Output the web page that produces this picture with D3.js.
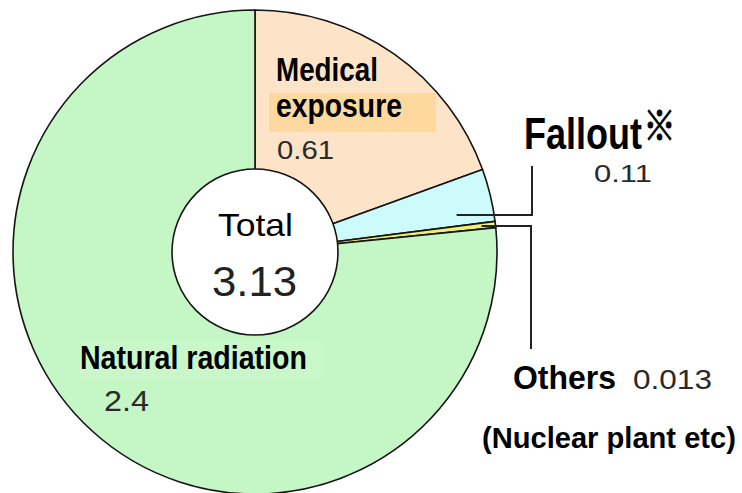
<!DOCTYPE html>
<html>
<head>
<meta charset="utf-8">
<script src="https://cdn.jsdelivr.net/npm/d3@7"></script>
<style>
  body { margin: 0; background: #fff; }
  svg { display: block; }
</style>
</head>
<body>
<div id="chart"></div>
<script>
// data (mSv per year)
const categories = ["Medical exposure", "Fallout", "Others", "Natural radiation"];
const values = [0.61, 0.11, 0.013, 2.4];
const valueLabels = ["0.61", "0.11", "0.013", "2.4"];
const totalLabel = "3.13";

const WIDTH = 742
const HEIGHT = 493
const cx = 255, cy = 252
const R = 242, R0 = 83

const colors = ["#fde4c9", "#cdfbfb", "#f2ee6e", "#c5f6c5"]

const bold = "'Liberation Sans', Arial, sans-serif"
const plain = "'Liberation Sans', Arial, sans-serif"

const svg = d3.select("#chart")
    .append("svg")
    .attr("width", WIDTH)
    .attr("height", HEIGHT)

const pie = d3.pie().sort(null).value(d => d.v)
const arcs = pie(categories.map((c, i) => ({ c: c, v: values[i] })))
const arc = d3.arc().innerRadius(0).outerRadius(R)

const g = svg.append("g").attr("transform", `translate(${cx},${cy})`)

g.selectAll("path.slice")
    .data(arcs)
    .join("path")
    .attr("class", "slice")
    .attr("d", arc)
    .attr("fill", (d, i) => colors[i])
    .attr("stroke", "#151515")
    .attr("stroke-width", 1.6)
    .attr("stroke-linejoin", "round")

// white centre
g.append("circle")
    .attr("r", R0)
    .attr("fill", "#fff")
    .attr("stroke", "#151515")
    .attr("stroke-width", 1.6)

// point on the pie at angle a (radians, clockwise from 12 o'clock)
function pt(a, rr) {
    return [cx + rr * Math.sin(a), cy - rr * Math.cos(a)]
}

// leader lines
const fo = arcs[1]
const pf = pt(fo.startAngle + 0.75 * (fo.endAngle - fo.startAngle), 205)
svg.append("path")
    .attr("d", `M${pf[0]},${pf[1]}H532V166`)
    .attr("fill", "none")
    .attr("stroke", "#222")
    .attr("stroke-width", 2)

const ot = arcs[2]
const po = pt((ot.startAngle + ot.endAngle) / 2, 228)
svg.append("path")
    .attr("d", `M${po[0]},${po[1]}H531V349`)
    .attr("fill", "none")
    .attr("stroke", "#222")
    .attr("stroke-width", 2)

// highlight boxes behind some labels
svg.append("rect")
    .attr("x", 269).attr("y", 93)
    .attr("width", 167).attr("height", 39)
    .attr("fill", "#fdd99f")

svg.append("rect")
    .attr("x", 80).attr("y", 342)
    .attr("width", 243).attr("height", 38)
    .attr("fill", "#c9f7c9")

// text squeezed horizontally to the width measured on the original
function label(x, y, txt, size, family, weight, fill, len) {
    const t = svg.append("text")
        .attr("font-family", family)
        .attr("font-size", size)
        .attr("font-weight", weight)
        .attr("fill", fill)
        .attr("transform", `translate(${x},${y})`)
        .text(txt)
    if (len) {
        const w = t.node().getComputedTextLength()
        t.attr("transform", `translate(${x},${y}) scale(${len / w},1)`)
    }
    return t
}

// Medical exposure
label(276, 81, "Medical", 34, bold, "bold", "#000", 102)
label(276, 117, "exposure", 34, bold, "bold", "#000", 126)
label(277, 159, valueLabels[0], 26, plain, "normal", "#2a2a2a", 57)

// Fallout (with the note mark raised)
const fl = label(524, 149, "Fallout", 45, bold, "bold", "#000", null)
fl.append("tspan")
    .attr("dx", 2)
    .attr("dy", -9)
    .attr("font-size", 40)
    .attr("font-family", "'Noto Sans CJK JP', sans-serif")
    .attr("stroke", "#000")
    .attr("stroke-width", 1)
    .text("※")
{
    const w = fl.node().getComputedTextLength()
    fl.attr("transform", `translate(524,149) scale(${150 / w},1)`)
}
label(594, 182, valueLabels[1], 24, plain, "normal", "#2a2a2a", 58)

// Others
label(513, 389, "Others", 34, bold, "bold", "#000", 103)
label(633, 389, valueLabels[2], 28, plain, "normal", "#2a2a2a", 79)
label(482, 448, "(Nuclear plant etc)", 30, bold, "bold", "#000", 254)

// Natural radiation
label(80, 369, "Natural radiation", 34, bold, "bold", "#000", 227)
label(104, 411, valueLabels[3], 30, plain, "normal", "#2a2a2a", 45)

// centre total
label(218, 236, "Total", 32, plain, "normal", "#000", 75)
label(212, 296, totalLabel, 42, plain, "normal", "#222", 85)
</script>
</body>
</html>
